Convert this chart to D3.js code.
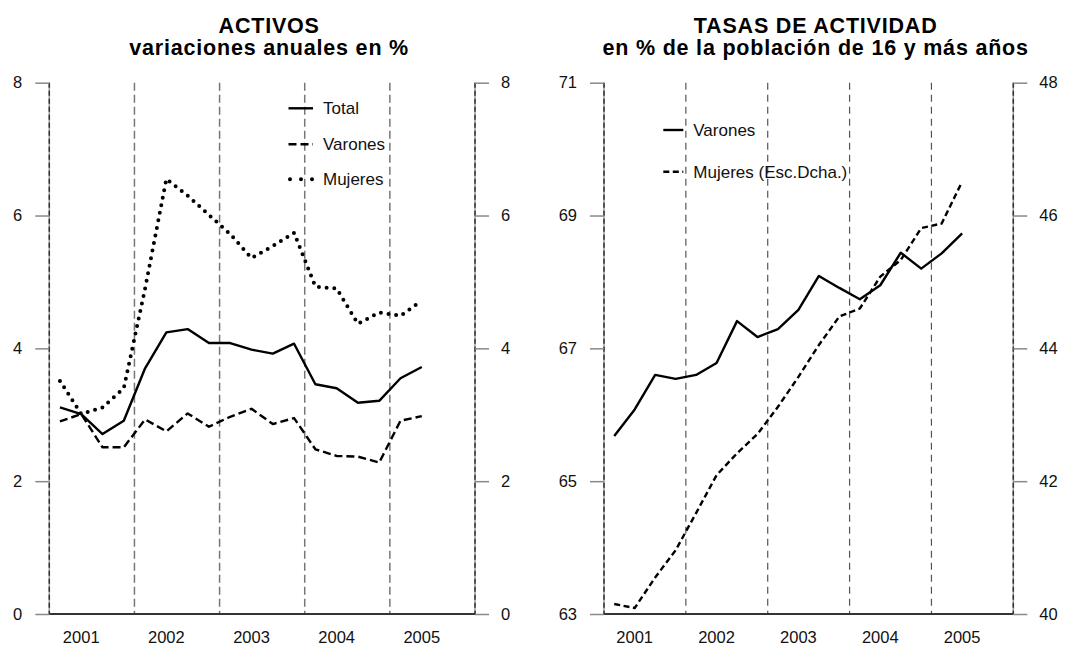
<!DOCTYPE html>
<html>
<head>
<meta charset="utf-8">
<script src="https://cdn.jsdelivr.net/npm/d3@7"></script>
<style>
  html, body { margin: 0; padding: 0; background: #fff; }
  svg { display: block; font-family: "Liberation Sans", Arial, sans-serif; }
  .tick text { font-size: 16.5px; fill: #111; }
  .tick line { stroke: #888; stroke-width: 1.5; }
</style>
</head>
<body>
<svg id="chart" width="1076" height="645"></svg>
<script>
// quarterly data, 2001 Q1 .. 2005 Q2
const years = ['2001', '2002', '2003', '2004', '2005'];

const activosTotal   = [3.11, 3.01, 2.71, 2.91, 3.70, 4.24, 4.29, 4.08, 4.08, 3.98, 3.92, 4.07, 3.46, 3.40, 3.18, 3.21, 3.55, 3.72];
const activosVarones = [2.90, 3.01, 2.51, 2.51, 2.93, 2.75, 3.02, 2.82, 2.97, 3.09, 2.86, 2.95, 2.48, 2.38, 2.37, 2.28, 2.91, 2.98];
const activosMujeres = [3.51, 3.01, 3.11, 3.40, 4.90, 6.55, 6.30, 6.01, 5.72, 5.36, 5.54, 5.74, 4.93, 4.90, 4.37, 4.54, 4.49, 4.72];

const tasaVarones = [65.68, 66.08, 66.60, 66.54, 66.60, 66.78, 67.41, 67.17, 67.29, 67.58, 68.09, 67.91, 67.74, 67.95, 68.44, 68.20, 68.43, 68.73];
const tasaMujeres = [40.15, 40.09, 40.55, 40.96, 41.52, 42.09, 42.42, 42.71, 43.12, 43.57, 44.05, 44.48, 44.60, 45.08, 45.33, 45.81, 45.88, 46.51];

const ticksActivos = [0, 2, 4, 6, 8];
const ticksTasaIzq = [63, 65, 67, 69, 71];
const ticksTasaDer = [40, 42, 44, 46, 48];

const svg = d3.select('#chart');
const plotTop = 82.7, plotBottom = 614;

// draws frame, year separators, axes for one panel; returns x scale
function panel(x0, x1, yL, yR, ticksL, ticksR, title1, title2, sepStyle) {
  const x = d3.scaleLinear().domain([0, years.length * 4]).range([x0, x1]);
  const g = svg.append('g');

  // year separators
  g.selectAll('line.sep')
    .data([4, 8, 12, 16])
    .join('line')
    .attr('x1', d => x(d)).attr('x2', d => x(d))
    .attr('y1', plotTop).attr('y2', plotBottom)
    .attr('stroke', sepStyle.color)
    .attr('stroke-width', sepStyle.width)
    .attr('stroke-dasharray', sepStyle.dash);

  // side axis lines (gray with dark dashes)
  [x0, x1].forEach(xx => {
    g.append('line').attr('x1', xx).attr('x2', xx).attr('y1', plotTop).attr('y2', plotBottom)
      .attr('stroke', '#999').attr('stroke-width', 1.5);
    g.append('line').attr('x1', xx).attr('x2', xx).attr('y1', plotTop).attr('y2', plotBottom)
      .attr('stroke', '#333').attr('stroke-width', 1.5).attr('stroke-dasharray', '5,3');
  });

  // y axes
  const axL = g.append('g').attr('transform', `translate(${x0},0)`)
    .call(d3.axisLeft(yL).tickValues(ticksL).tickSize(14).tickPadding(13).tickFormat(d3.format('d')));
  const axR = g.append('g').attr('transform', `translate(${x1},0)`)
    .call(d3.axisRight(yR).tickValues(ticksR).tickSize(14).tickPadding(12).tickFormat(d3.format('d')));
  axL.select('.domain').remove();
  axR.select('.domain').remove();

  // bottom axis
  g.append('line').attr('x1', x0).attr('x2', x1).attr('y1', plotBottom).attr('y2', plotBottom)
    .attr('stroke', '#333').attr('stroke-width', 2);

  g.selectAll('text.year')
    .data(years)
    .join('text')
    .attr('class', 'year')
    .attr('x', (d, i) => x(i * 4 + 1.5))
    .attr('y', 642.5)
    .attr('text-anchor', 'middle')
    .attr('font-size', 16.5)
    .attr('fill', '#111')
    .text(d => d);

  // titles
  const cx = (x0 + x1) / 2 + 7;
  [[title1, 33], [title2, 55]].forEach(([t, ty]) => {
    g.append('text').attr('x', cx).attr('y', ty).attr('text-anchor', 'middle')
      .attr('font-size', 21.5).attr('font-weight', 'bold')
      .attr('letter-spacing', 0.8).text(t);
  });

  return x;
}

function series(x, y, values, style) {
  const line = d3.line().x((d, i) => x(i + 0.5)).y(d => y(d));
  svg.append('path')
    .datum(values)
    .attr('d', line)
    .attr('fill', 'none')
    .attr('stroke', '#000')
    .attr('stroke-width', style.width)
    .attr('stroke-dasharray', style.dash || null)
    .attr('stroke-linecap', style.cap || 'butt')
    .attr('stroke-linejoin', 'round');
}

function legendItem(x1, x2, y, label, style) {
  svg.append('line').attr('x1', x1).attr('x2', x2).attr('y1', y).attr('y2', y)
    .attr('stroke', '#000').attr('stroke-width', style.width)
    .attr('stroke-dasharray', style.dash || null)
    .attr('stroke-linecap', style.cap || 'butt');
  svg.append('text').attr('x', x2 + 10).attr('y', y).attr('dy', '0.35em')
    .attr('font-size', 17).attr('fill', '#111').text(label);
}

// ---- left panel: ACTIVOS ----
const yA = d3.scaleLinear().domain([0, 8]).range([plotBottom, plotTop]);
const xA = panel(49.3, 475, yA, yA, ticksActivos, ticksActivos,
  'ACTIVOS', 'variaciones anuales en %', { color: '#777', width: 1.5, dash: '8,4' });

const sTotal = { width: 2.4 };
const sVar = { width: 2.4, dash: '8,4' };
const sMuj = { width: 4, dash: '0,7.7', cap: 'round' };
series(xA, yA, activosTotal, sTotal);
series(xA, yA, activosVarones, sVar);
series(xA, yA, activosMujeres, sMuj);

legendItem(288.5, 313, 108.3, 'Total', sTotal);
legendItem(288.5, 313, 144.3, 'Varones', sVar);
legendItem(290, 313, 179.3, 'Mujeres', { width: 4, dash: '0,11', cap: 'round' });

// ---- right panel: TASAS DE ACTIVIDAD ----
const yTL = d3.scaleLinear().domain([63, 71]).range([plotBottom, plotTop]);
const yTR = d3.scaleLinear().domain([40, 48]).range([plotBottom, plotTop]);
const xT = panel(604, 1013.3, yTL, yTR, ticksTasaIzq, ticksTasaDer,
  'TASAS DE ACTIVIDAD', 'en % de la población de 16 y más años', { color: '#555', width: 1.2, dash: '7,5' });

const sTV = { width: 2.4 };
const sTM = { width: 2.4, dash: '6,3.5' };
series(xT, yTL, tasaVarones, sTV);
series(xT, yTR, tasaMujeres, sTM);

legendItem(663.3, 683.3, 130, 'Varones', sTV);
legendItem(663.3, 683.3, 171.7, 'Mujeres (Esc.Dcha.)', sTM);
</script>
</body>
</html>
